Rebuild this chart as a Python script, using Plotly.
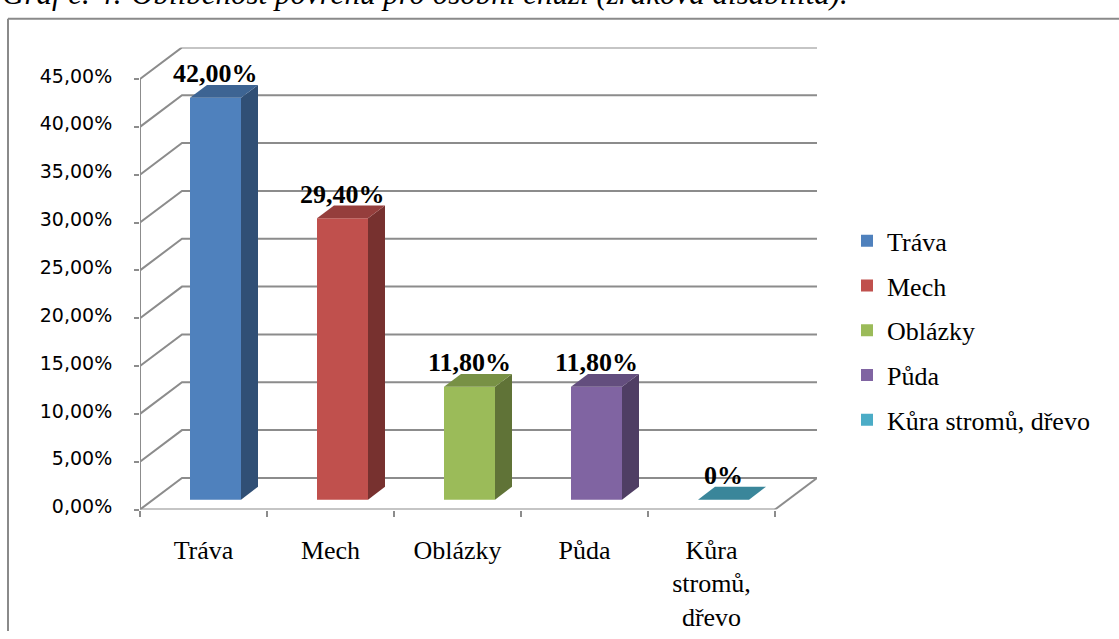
import plotly.graph_objects as go

# ---- data -------------------------------------------------------------
categories = ["Tráva", "Mech", "Oblázky", "Půda", "Kůra stromů, dřevo"]
axis_labels = ["Tráva", "Mech", "Oblázky", "Půda", "Kůra<br>stromů,<br>dřevo"]
values = [42.0, 29.4, 11.8, 11.8, 0.0]
colors = ["#4F81BD", "#C0504D", "#9BBB59", "#8064A2", "#4BACC6"]
y_ticks = [0, 5, 10, 15, 20, 25, 30, 35, 40, 45]

title = "Graf č. 4: Oblíbenost povrchů pro osobní chůzi (zraková disabilita)."


def pct(v, decimals=2):
    return f"{v:.{decimals}f}".replace(".", ",") + "%"


def value_label(v):
    return "0%" if v == 0 else pct(v)


def shade(hex_color, f):
    h = hex_color.lstrip("#")
    r, g, b = (int(h[i:i + 2], 16) for i in (0, 2, 4))
    return "#{:02X}{:02X}{:02X}".format(int(r * f), int(g * f), int(b * f))


# ---- geometry of the pseudo-3D box ------------------------------------
W, H = 1119, 639
X_PX = 127.0          # pixels per category
Y_PX = 9.689          # pixels per percent
X0_PX = 140           # front axis position
Y0_PX = 516           # front floor position
DEPTH_DX = 42 / X_PX  # depth of the box (x units)
DEPTH_DY = 32 / Y_PX  # depth of the box (y units)
Y_MAX = 45

OX = 12 / X_PX        # bar front offset into the box
OY = 10 / Y_PX
BW = 51 / X_PX        # bar width
BDX = 17 / X_PX       # bar depth
BDY = 13 / Y_PX

n = len(categories)
x_lo, x_hi = -0.5, n - 0.5 + DEPTH_DX
y_lo, y_hi = 0, Y_MAX + DEPTH_DY

x_dom = [X0_PX / W, (X0_PX + (x_hi - x_lo) * X_PX) / W]
y_dom = [1 - Y0_PX / H, 1 - (Y0_PX - (y_hi - y_lo) * Y_PX) / H]

GRID = "#8C8C8C"
SERIF = "Liberation Serif"
fig = go.Figure()

# back-wall gridlines with their diagonal on the side wall
shapes = []
for t in y_ticks:
    shapes.append(dict(
        type="path", xref="x", yref="y", layer="below",
        path=f"M {-0.5},{t} L {-0.5 + DEPTH_DX},{t + DEPTH_DY} L {x_hi},{t + DEPTH_DY}",
        line=dict(color=GRID, width=2)))
# front axis and floor edges
shapes += [
    dict(type="line", xref="x", yref="y", x0=-0.5, y0=0, x1=-0.5, y1=Y_MAX,
         line=dict(color=GRID, width=2), layer="below"),
    dict(type="line", xref="x", yref="y", x0=-0.5, y0=0, x1=n - 0.5, y1=0,
         line=dict(color=GRID, width=2), layer="below"),
    dict(type="line", xref="x", yref="y", x0=n - 0.5, y0=0, x1=x_hi, y1=DEPTH_DY,
         line=dict(color=GRID, width=2), layer="below"),
]
# outer frame
shapes += [
    dict(type="line", xref="paper", yref="paper", x0=8 / W, y0=0, x1=8 / W, y1=1 - 19 / H,
         line=dict(color="#8A8A8A", width=2)),
    dict(type="line", xref="paper", yref="paper", x0=8 / W, y0=1 - 19 / H, x1=1.01, y1=1 - 19 / H,
         line=dict(color="#8A8A8A", width=2)),
]

annotations = []
for i, (cat, v, c) in enumerate(zip(categories, values, colors)):
    xl = i + OX - BW / 2
    xr = i + OX + BW / 2
    top = OY + v
    # front face
    fig.add_trace(go.Bar(
        x=[i + OX], y=[v], base=OY, width=BW, name=cat, legendgroup=cat,
        marker=dict(color=c, line=dict(width=0)), hoverinfo="skip"))
    # side face
    if v > 0:
        fig.add_trace(go.Scatter(
            x=[xr, xr + BDX, xr + BDX, xr, xr],
            y=[OY, OY + BDY, top + BDY, top, OY],
            fill="toself", fillcolor=shade(c, 0.62), mode="lines",
            line=dict(width=0), showlegend=False, hoverinfo="skip"))
    # top face
    fig.add_trace(go.Scatter(
        x=[xl, xl + BDX, xr + BDX, xr, xl],
        y=[top, top + BDY, top + BDY, top, top],
        fill="toself", fillcolor=shade(c, 0.78), mode="lines",
        line=dict(width=0), showlegend=False, hoverinfo="skip"))
    annotations.append(dict(
        x=i + OX, y=top + BDY, xref="x", yref="y", text=f"<b>{value_label(v)}</b>",
        showarrow=False, yanchor="middle", yshift=11,
        font=dict(family=SERIF, size=26, color="#000000")))

annotations.append(dict(
    x=0, y=1 - 13 / H, xref="paper", yref="paper", xanchor="left", yanchor="bottom",
    text=f"<i>{title}</i>", showarrow=False,
    font=dict(family=SERIF, size=31, color="#000000")))

fig.update_layout(
    width=W, height=H,
    margin=dict(l=0, r=0, t=0, b=0),
    paper_bgcolor="white", plot_bgcolor="rgba(0,0,0,0)",
    barmode="overlay",
    shapes=shapes, annotations=annotations,
    showlegend=True,
    legend=dict(x=847 / W, y=1 - 220 / H, xanchor="left", yanchor="top",
                font=dict(family=SERIF, size=26, color="#000000"),
                tracegroupgap=8, bgcolor="rgba(0,0,0,0)", itemclick=False),
    xaxis=dict(domain=x_dom, range=[x_lo, x_hi], tickmode="array",
               tickvals=list(range(n)), ticktext=axis_labels, ticks="",
               showgrid=False, zeroline=False, showline=False, fixedrange=True,
               ticklabelstandoff=22,
               tickfont=dict(family=SERIF, size=26, color="#000000")),
    xaxis2=dict(overlaying="x", matches="x", anchor="y", side="bottom",
                range=[x_lo, x_hi], tickmode="array",
                tickvals=[k - 0.5 for k in range(n + 1)], ticks="outside", ticklen=6,
                tickcolor=GRID, tickwidth=2, showticklabels=False, showgrid=False,
                zeroline=False, showline=False, fixedrange=True),
    yaxis=dict(domain=y_dom, range=[y_lo, y_hi], tickmode="array",
               tickvals=y_ticks, ticktext=[pct(t) for t in y_ticks],
               ticks="outside", ticklen=5, tickcolor=GRID, tickwidth=2,
               showgrid=False, zeroline=False, showline=False, fixedrange=True,
               ticklabelstandoff=18, ticklabelshift=-3,
               tickfont=dict(family="DejaVu Sans", size=19, color="#000000")),
)

# a placeholder trace keeps xaxis2 active so its boundary ticks are drawn
fig.add_trace(go.Scatter(x=[None], y=[None], xaxis="x2", yaxis="y",
                         showlegend=False, hoverinfo="skip"))

fig.write_html("out.html")
